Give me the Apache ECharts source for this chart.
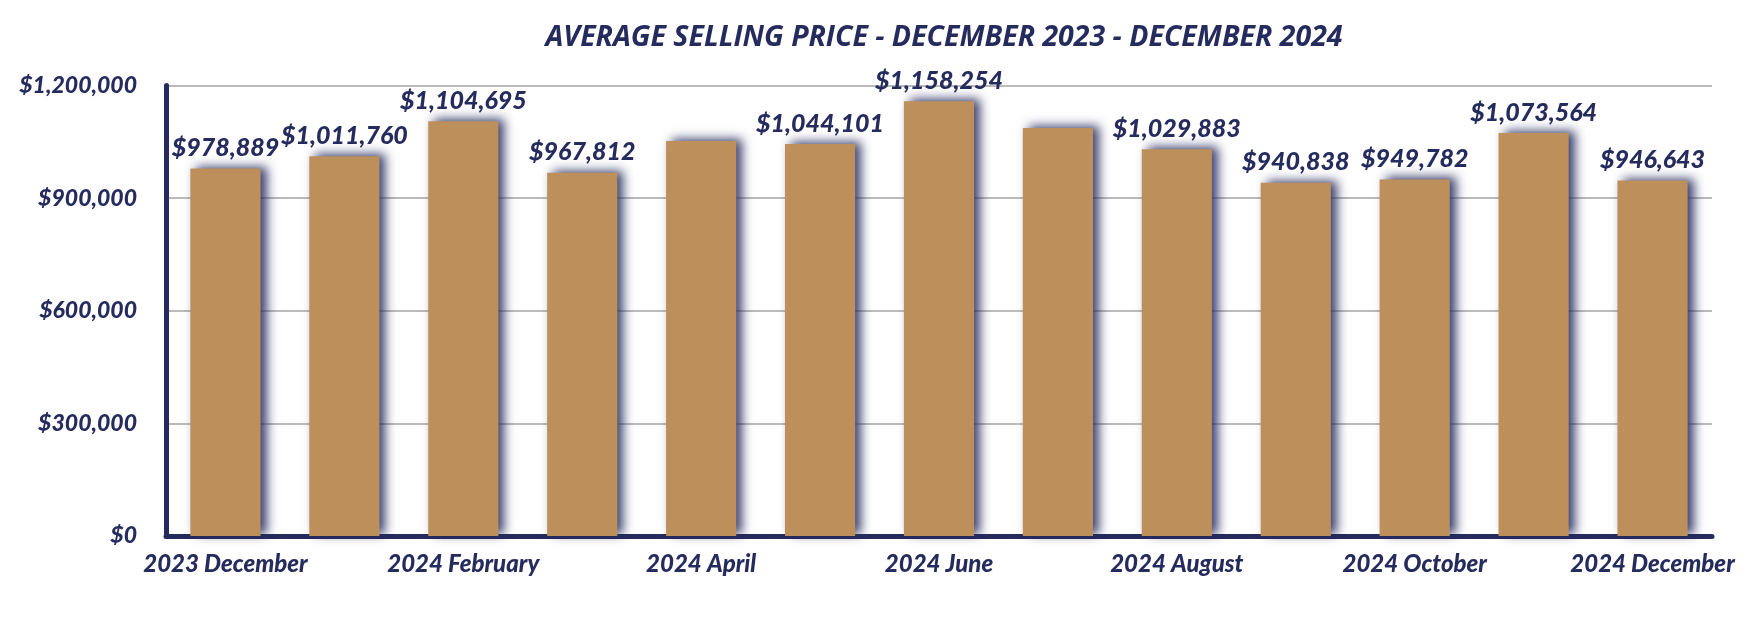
<!DOCTYPE html>
<html>
<head>
<meta charset="utf-8">
<script src="https://cdn.jsdelivr.net/npm/echarts@6/dist/echarts.min.js"></script>
<style>
  html, body { margin: 0; padding: 0; background: #ffffff; }
  #chart { width: 1750px; height: 628px; }
</style>
</head>
<body>
<div id="chart"></div>
<script>
const titleText = 'AVERAGE SELLING PRICE - DECEMBER 2023 - DECEMBER 2024';
const categories = ['2023 December', '2024 January', '2024 February', '2024 March', '2024 April', '2024 May',
  '2024 June', '2024 July', '2024 August', '2024 September', '2024 October', '2024 November', '2024 December'];
const prices = [978889, 1011760, 1104695, 967812, 1052000, 1044101, 1158254, 1087000, 1029883, 940838, 949782, 1073564, 946643];
const showValueLabel = [true, true, true, true, false, true, true, false, true, true, true, true, true];
const yTicks = { min: 0, max: 1200000, interval: 300000 };

const NAVY = '#262B5E';
const GOLD = '#BD8F5A';
const FONT = 'Lato';

function money(v) {
  return '$' + Math.round(v).toString().replace(/\B(?=(\d{3})+(?!\d))/g, ',');
}

const chart = echarts.init(document.getElementById('chart'), null, { renderer: 'canvas' });
chart.setOption({
  backgroundColor: '#ffffff',
  animation: false,
  title: {
    text: titleText,
    left: 939,
    textAlign: 'center',
    top: 18,
    textStyle: { fontFamily: 'Open Sans', fontStyle: 'italic', fontWeight: 'bold', fontSize: 28.5, color: NAVY }
  },
  grid: { left: 166, right: 38, top: 85.5, bottom: 92, containLabel: false },
  xAxis: {
    type: 'category',
    data: categories,
    axisLine: { show: true, lineStyle: { color: NAVY, width: 5 } },
    axisTick: { show: false },
    axisLabel: {
      interval: 1,
      margin: 16,
      fontFamily: FONT, fontStyle: 'italic', fontWeight: 900, fontSize: 24, color: NAVY
    }
  },
  yAxis: {
    type: 'value',
    min: yTicks.min, max: yTicks.max, interval: yTicks.interval,
    axisLine: { show: true, lineStyle: { color: NAVY, width: 5 } },
    axisTick: { show: false },
    splitLine: { show: true, lineStyle: { color: '#BBBBBB', width: 2 } },
    axisLabel: {
      margin: 29,
      formatter: money,
      fontFamily: FONT, fontStyle: 'italic', fontWeight: 900, fontSize: 23, color: NAVY
    }
  },
  series: [{
    type: 'bar',
    barCategoryGap: '41%',
    data: prices.map((v, i) => ({
      value: v,
      label: { show: showValueLabel[i] }
    })),
    itemStyle: {
      color: GOLD,
      shadowColor: 'rgba(38,43,94,0.9)',
      shadowBlur: 10,
      shadowOffsetX: 6,
      shadowOffsetY: -2
    },
    label: {
      show: true,
      position: 'top',
      distance: 8,
      formatter: p => money(p.value),
      fontFamily: FONT, fontStyle: 'italic', fontWeight: 900, fontSize: 25, color: NAVY
    }
  }]
});
</script>
</body>
</html>
